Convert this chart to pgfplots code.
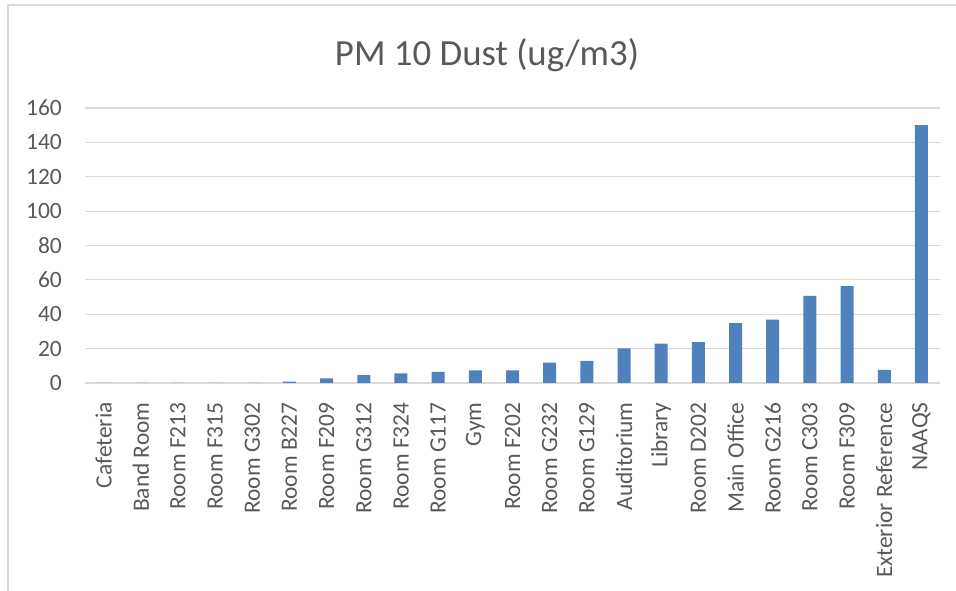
\documentclass[border=0pt]{standalone}
\usepackage{pgfplots}
\pgfplotsset{compat=1.18}
\usepackage{fontspec}
\setmainfont{Carlito}
\definecolor{txt}{HTML}{595959}
\definecolor{gridc}{HTML}{D9D9D9}
\definecolor{barc}{HTML}{4F81BD}
\begin{document}
\begin{tikzpicture}[x=1bp,y=1bp]
\useasboundingbox (0,0) rectangle (956,591);
\draw[gridc, line width=1.5bp] (8,0) -- (8,586) -- (956,586);
\node[txt, font=\fontsize{37}{44}\selectfont, anchor=base, inner sep=0pt] at (487,525) {PM 10 Dust (ug/m3)};
\begin{axis}[
  at={(85bp,208bp)}, anchor=south west,
  width=855bp, height=275bp, scale only axis,
  ymin=0, ymax=160, xmin=-0.5, xmax=22.5,
  ytick={0,20,...,160},
  xtick={0,...,22},
  xticklabels={Cafeteria,Band Room,Room F213,Room F315,Room G302,Room B227,Room F209,Room G312,Room F324,Room G117,Gym,Room F202,Room G232,Room G129,Auditorium,Library,Room D202,Main Office,Room G216,Room C303,Room F309,Exterior Reference,NAAQS},
  ymajorgrids, grid style={gridc, line width=1.2bp},
  axis line style={draw=none},
  major tick style={draw=none},
  /pgf/number format/assume math mode=true,
  ticklabel style={txt, font=\fontsize{23.5}{28}\selectfont, inner sep=0pt},
  yticklabel style={anchor=east},
  yticklabel shift=23bp,
  xticklabel style={rotate=90, anchor=east},
  xticklabel shift=15bp,
  ybar, bar width=13bp,
  clip=false,
]
\addplot[fill=barc, draw=none] coordinates {
(0,0) (1,0) (2,0) (3,0) (4,0) (5,0.8) (6,2.7) (7,4.6) (8,5.6) (9,6.5) (10,7.4) (11,7.3) (12,11.8) (13,12.8) (14,20.2) (15,22.9) (16,23.8) (17,34.9) (18,36.8) (19,50.7) (20,56.3) (21,7.7) (22,150)
};
\end{axis}
\end{tikzpicture}
\end{document}
